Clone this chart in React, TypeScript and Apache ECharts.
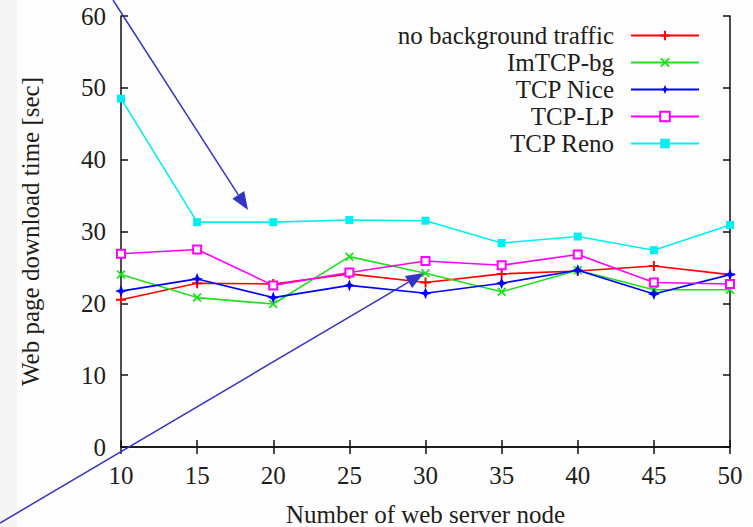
import React, { useEffect, useRef } from "react";
import * as echarts from "echarts";

// Number of web server nodes (x values)
const nodes = [10, 15, 20, 25, 30, 35, 40, 45, 50];

// Web page download time [sec] per configuration
const noBackground = [20.5, 22.8, 22.7, 24.1, 22.9, 24.1, 24.5, 25.2, 24.0];
const imTcpBg = [24.0, 20.8, 19.9, 26.5, 24.2, 21.6, 24.6, 21.9, 21.9];
const tcpNice = [21.7, 23.4, 20.8, 22.5, 21.4, 22.8, 24.6, 21.3, 24.0];
const tcpLp = [26.9, 27.5, 22.5, 24.3, 25.9, 25.3, 26.8, 22.9, 22.7];
const tcpReno = [48.5, 31.3, 31.3, 31.6, 31.5, 28.4, 29.3, 27.4, 30.9];

const seriesNames = ["no background traffic", "ImTCP-bg", "TCP Nice", "TCP-LP", "TCP Reno"];
const seriesValues = [noBackground, imTcpBg, tcpNice, tcpLp, tcpReno];
const seriesColors = ["#ff0000", "#1ee01e", "#0000ff", "#ff00ff", "#00f0f0"];

const xTicks = { min: 10, max: 50, step: 5 };
const yTicks = { min: 0, max: 60, step: 10 };

// gnuplot-like point shapes
const PLUS = "path://M4,0H6V4H10V6H6V10H4V6H0V4H4Z";
const CROSS = "path://M0,1.4L1.4,0L5,3.6L8.6,0L10,1.4L6.4,5L10,8.6L8.6,10L5,6.4L1.4,10L0,8.6L3.6,5Z";
const STAR = "path://M5,0L6.4,3.6L10,5L6.4,6.4L5,10L3.6,6.4L0,5L3.6,3.6Z";
const symbols = [PLUS, CROSS, STAR, "emptyRect", "rect"];
const symbolSizes = [10, 9, 12, 8, 8];

const FONT = "'Liberation Serif', 'DejaVu Serif', serif";
const TEXT = "#221d1a";
const ARROW = "#3434c4";

export default function App() {
  const ref = useRef<HTMLDivElement>(null);

  useEffect(() => {
    if (!ref.current) return;
    const chart = echarts.init(ref.current, undefined, { renderer: "svg" });

    const series = seriesNames.map((name, i) => ({
      name,
      type: "line",
      data: nodes.map((x, j) => [x, seriesValues[i][j]]),
      symbol: symbols[i],
      symbolSize: symbolSizes[i],
      showAllSymbol: true,
      lineStyle: { color: seriesColors[i], width: 1.6 },
      itemStyle:
        symbols[i] === "emptyRect"
          ? { color: seriesColors[i], borderColor: seriesColors[i], borderWidth: 1.5 }
          : { color: seriesColors[i], borderWidth: 0 },
      emphasis: { disabled: true },
      z: 3 + i,
    }));

    const axisLine = { show: true, lineStyle: { color: "#111", width: 1.5 } };
    const axisTick = { show: true, inside: true, length: 7, lineStyle: { color: "#111", width: 1.5 } };

    chart.setOption({
      animation: false,
      backgroundColor: "#fdfdfd",
      grid: { left: 121, right: 23, top: 16, bottom: 80, containLabel: false, outerBoundsMode: "none" },
      legend: {
        orient: "vertical",
        align: "right",
        right: 53,
        top: 23,
        padding: 0,
        itemGap: 2,
        itemWidth: 68,
        itemHeight: 12,
        data: seriesNames,
        selectedMode: false,
        textStyle: { fontFamily: FONT, fontSize: 25, color: TEXT, lineHeight: 24, padding: [0, 12, 0, 0] },
      },
      xAxis: [
        {
          type: "value",
          min: xTicks.min,
          max: xTicks.max,
          interval: xTicks.step,
          name: "Number of web server node",
          nameLocation: "middle",
          nameGap: 55,
          nameTextStyle: { fontFamily: FONT, fontSize: 25, color: TEXT },
          axisLine,
          axisTick,
          splitLine: { show: false },
          axisLabel: { fontFamily: FONT, fontSize: 25, color: TEXT, margin: 16 },
        },
        {
          type: "value",
          position: "top",
          min: xTicks.min,
          max: xTicks.max,
          interval: xTicks.step,
          axisLine,
          axisTick,
          splitLine: { show: false },
          axisLabel: { show: false },
        },
      ],
      yAxis: [
        {
          type: "value",
          min: yTicks.min,
          max: yTicks.max,
          interval: yTicks.step,
          name: "Web page download time [sec]",
          nameLocation: "middle",
          nameGap: 78,
          nameTextStyle: { fontFamily: FONT, fontSize: 25, color: TEXT },
          axisLine,
          axisTick,
          splitLine: { show: false },
          axisLabel: { fontFamily: FONT, fontSize: 25, color: TEXT, margin: 15 },
        },
        {
          type: "value",
          position: "right",
          min: yTicks.min,
          max: yTicks.max,
          interval: yTicks.step,
          axisLine,
          axisTick,
          splitLine: { show: false },
          axisLabel: { show: false },
        },
      ],
      graphic: [
        { type: "rect", shape: { x: 0, y: 0, width: 17, height: 527 }, style: { fill: "#f5f5f5" }, z: -1 },
        // annotation arrow towards TCP Reno
        { type: "line", shape: { x1: 113, y1: 0, x2: 238.3, y2: 194.9 }, style: { stroke: ARROW, lineWidth: 1.5 }, z: 100 },
        { type: "polygon", shape: { points: [[248, 210], [232.4, 198.7], [244.2, 191.1]] }, style: { fill: ARROW }, z: 100 },
        // annotation arrow towards the low-priority flows
        { type: "line", shape: { x1: 0, y1: 523, x2: 408.5, y2: 282.1 }, style: { stroke: ARROW, lineWidth: 1.5 }, z: 100 },
        { type: "polygon", shape: { points: [[424, 273], [412.1, 288.1], [404.9, 276.1]] }, style: { fill: ARROW }, z: 100 },
      ],
      series,
    });

    return () => chart.dispose();
  }, []);

  return (
    <div
      ref={ref}
      style={{ position: "fixed", left: 0, top: 0, width: 753, height: 527 }}
    />
  );
}
